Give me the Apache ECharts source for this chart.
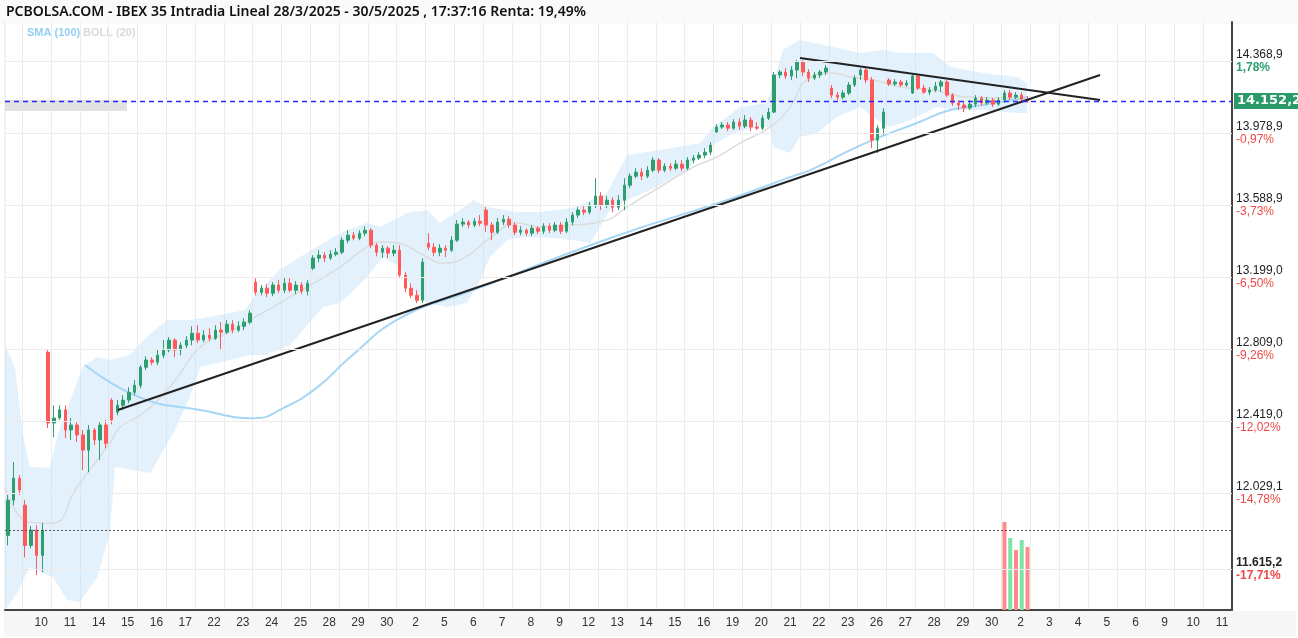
<!DOCTYPE html>
<html><head><meta charset="utf-8">
<script src="https://cdn.jsdelivr.net/npm/echarts@6/dist/echarts.min.js"></script>
<style>html,body{margin:0;padding:0;background:#fff}#c{width:1298px;height:638px}</style>
</head><body><div id="c"></div>
<script>
// day labels (one per session), first partial session has no label
const dayLabels = ['10','11','14','15','16','17','22','23','24','25','28','29','30','2','5','6','7','8','9','12','13','14','15','16','19','20','21','22','23','26','27','28','29','30','2','3','4','5','6','9','10','11'];
const leadBars = 3, barsPerDay = 5;
// candles [open, close, low, high]
const candles = [
[11799,11990,11745,12018],[11990,12108,11963,12196],[12108,12045,12018,12126],
[11963,11745,11680,11990],[11745,11828,11729,11850],[11828,11691,11583,11855],[11691,11828,11599,11866],[12791,12408,12381,12803],
[12408,12435,12331,12504],[12435,12479,12424,12504],[12479,12370,12325,12504],[12370,12397,12316,12435],[12397,12343,12305,12412],
[12343,12261,12153,12370],[12261,12370,12141,12397],[12370,12316,12287,12381],[12316,12397,12207,12412],[12397,12298,12271,12424],
[12532,12424,12401,12542],[12466,12504,12450,12532],[12504,12532,12477,12558],[12532,12574,12515,12601],[12574,12612,12558,12641],
[12612,12710,12596,12721],[12710,12749,12694,12769],[12749,12737,12721,12764],[12737,12775,12721,12803],[12775,12803,12759,12857],
[12803,12857,12791,12873],[12857,12803,12764,12867],[12803,12829,12775,12845],[12829,12857,12813,12878],[12857,12894,12829,12932],
[12894,12857,12840,12938],[12857,12883,12845,12911],[12883,12867,12851,12921],[12867,12911,12857,12938],[12911,12900,12803,12954],
[12900,12943,12889,12965],[12943,12911,12894,12965],[12911,12932,12900,12959],[12932,12954,12911,12975],[12954,13003,12943,13019],
[13171,13116,13100,13192],[13116,13138,13100,13155],[13138,13111,13089,13160],[13111,13155,13095,13171],[13155,13127,13111,13182],
[13127,13165,13111,13198],[13165,13127,13116,13192],[13127,13155,13106,13176],[13155,13122,13106,13171],[13122,13165,13100,13182],
[13246,13301,13236,13317],[13301,13317,13279,13344],[13317,13301,13279,13333],[13301,13322,13290,13344],[13322,13333,13311,13355],
[13333,13398,13322,13415],[13398,13425,13382,13452],[13425,13409,13398,13442],[13409,13436,13398,13452],[13436,13452,13420,13474],
[13452,13371,13355,13463],[13371,13333,13311,13382],[13333,13355,13301,13371],[13355,13328,13301,13366],[13328,13344,13311,13371],
[13344,13209,13192,13371],[13209,13138,13116,13225],[13138,13100,13084,13165],[13100,13073,13057,13127],[13073,13279,13057,13301],
[13382,13360,13344,13436],[13360,13333,13311,13382],[13333,13355,13311,13377],[13355,13344,13306,13371],[13344,13398,13333,13420],
[13398,13485,13388,13507],[13485,13496,13469,13518],[13496,13480,13463,13507],[13480,13501,13469,13518],[13501,13490,13474,13534],
[13561,13480,13442,13577],[13480,13441,13398,13496],[13441,13496,13431,13518],[13496,13512,13480,13534],[13512,13480,13463,13528],
[13480,13441,13425,13496],[13441,13452,13425,13474],[13452,13436,13420,13463],[13436,13463,13420,13480],[13463,13447,13431,13474],
[13447,13474,13431,13490],[13474,13452,13436,13490],[13452,13480,13441,13496],[13480,13447,13431,13496],[13447,13496,13436,13518],
[13496,13534,13480,13550],[13534,13561,13518,13577],[13561,13550,13534,13582],[13550,13588,13539,13604],[13588,13637,13572,13734],
[13637,13588,13561,13658],[13588,13615,13572,13637],[13615,13577,13550,13631],[13577,13615,13561,13642],[13615,13696,13561,13734],
[13696,13745,13680,13761],[13745,13766,13734,13788],[13766,13745,13723,13788],[13745,13777,13734,13799],[13777,13832,13766,13848],
[13832,13777,13761,13843],[13777,13799,13766,13815],[13799,13788,13772,13815],[13788,13810,13777,13832],[13810,13788,13772,13832],
[13788,13832,13777,13848],[13832,13843,13815,13859],[13843,13859,13832,13875],[13859,13875,13843,13897],[13875,13913,13859,13929],
[13984,14011,13973,14027],[14011,14022,14000,14038],[14022,14005,13989,14038],[14005,14038,13995,14054],[14038,14016,13995,14059],
[14016,14049,14005,14076],[14049,14011,13989,14065],[14011,14005,13995,14038],[14005,14059,13995,14076],[14059,14092,14049,14114],
[14092,14293,14087,14309],[14293,14309,14276,14320],[14309,14287,14271,14331],[14287,14320,14266,14341],[14320,14363,14276,14374],
[14363,14309,14287,14374],[14309,14276,14255,14325],[14276,14293,14266,14309],[14293,14309,14276,14320],[14309,14331,14293,14347],
[14222,14184,14168,14239],[14184,14173,14157,14200],[14173,14195,14162,14211],[14195,14239,14184,14255],[14239,14276,14228,14293],
[14293,14320,14266,14331],[14320,14266,14249,14331],[14266,13940,13897,14282],[13940,14005,13870,14022],[14005,14092,13968,14114],
[14266,14244,14233,14276],[14244,14255,14233,14271],[14255,14239,14228,14266],[14239,14249,14228,14266],[14195,14287,14190,14298],
[14287,14222,14211,14298],[14222,14200,14190,14239],[14200,14211,14184,14228],[14211,14233,14200,14255],[14233,14255,14200,14266],
[14255,14184,14173,14266],[14184,14141,14125,14195],[14141,14130,14103,14157],[14130,14114,14092,14146],[14114,14135,14103,14157],
[14135,14168,14119,14184],[14168,14141,14125,14179],[14141,14157,14130,14173],[14157,14135,14119,14168],[14135,14157,14125,14173],
[14157,14195,14141,14211],[14195,14173,14157,14211],[14173,14184,14162,14200],[14184,14162,14152,14200],[14162,14152.2,14141,14179]
];
const volumes = [88,72,60,70,63];           // last session volume bars
const volumeDir = [-1,1,-1,1,-1];
// indicators: [barIndex, value]
const sma100 = [[13.4,12722],[22.9,12547],[33.4,12478],[42.9,12434],[47.8,12489],[53.7,12601],[59.4,12764],[68.1,12976],[80.8,13128],[104.5,13409],[124.8,13615],[135.8,13740],[139.3,13778],[146.2,13886],[150.9,13951],[157.8,14033],[163.6,14103],[169.3,14130],[176.9,14174]];
const bollUpper = [[-0.5,12830],[1.2,12711],[2.6,12353],[3.8,12169],[7.3,12164],[8.7,12353],[13.0,12711],[15.5,12765],[17.7,12749],[21.2,12776],[23.5,12857],[27.6,12966],[31.6,12966],[36.8,12993],[41.2,13020],[42.9,13101],[47.2,13236],[50.7,13307],[57.7,13437],[62.3,13491],[64.6,13469],[69.3,13545],[72.8,13561],[75.0,13491],[78.0,13551],[80.8,13616],[83.2,13578],[88.4,13551],[92.4,13551],[98.1,13572],[104.0,13654],[107.5,13859],[113.2,13886],[120.2,13924],[122.4,14011],[127.1,14119],[131.8,14141],[133.5,14320],[134.5,14428],[137.5,14482],[143.3,14444],[147.9,14412],[151.9,14428],[154.9,14412],[160.6,14412],[163.6,14336],[169.3,14304],[175.2,14282],[176.9,14249]];
const bollLower = [[-0.5,11395],[1.6,11487],[3.8,11628],[7.8,11573],[10.3,11449],[12.5,11438],[15.5,11573],[17.7,11812],[18.6,12169],[21.7,12153],[24.7,12137],[28.7,12353],[31.6,12548],[33.4,12711],[38.6,12749],[42.0,12776],[44.6,12776],[49.0,12830],[54.7,13036],[57.7,13058],[62.3,13198],[65.1,13307],[68.1,13253],[70.3,13128],[72.8,13058],[76.2,13036],[79.7,13058],[82.0,13182],[83.7,13307],[86.7,13399],[89.4,13415],[94.1,13410],[98.1,13399],[101.1,13383],[104.5,13561],[107.5,13616],[112.7,13686],[117.9,13778],[120.2,13870],[125.9,13979],[130.6,14011],[132.3,14011],[132.8,13903],[135.8,13870],[137.5,13957],[140.5,13979],[143.9,14065],[147.9,14119],[150.9,14049],[153.1,14011],[156.6,14049],[161.3,14119],[164.8,14103],[169.3,14103],[175.2,14087],[176.9,14087]];
const bollMid = [[-0.5,12061],[3.8,11871],[7.8,11866],[12.0,12061],[17.7,12299],[19.5,12386],[23.5,12462],[28.7,12624],[33.4,12819],[39.1,12911],[42.6,12976],[46.0,13036],[51.9,13144],[57.7,13253],[62.3,13361],[65.1,13388],[67.6,13383],[72.1,13318],[75.5,13274],[78.5,13291],[83.7,13410],[88.4,13491],[92.4,13469],[98.1,13480],[104.0,13507],[107.5,13578],[113.2,13686],[119.0,13794],[123.1,13849],[127.1,13924],[132.3,14011],[135.8,14119],[138.7,14266],[143.3,14304],[146.2,14282],[150.2,14266],[154.9,14228],[160.6,14211],[166.5,14174],[172.8,14168],[176.9,14163]];
const trendUp = [[19.1,12478],[189.6,14293]];
const trendDown = [[137.5,14385],[189.6,14157]];
const lastPrice = 14152.2, lastPriceLabel = '14.152,2';
const refLevel = 11828;
const yTicks = [14368.9,13978.9,13588.9,13199.0,12809.0,12419.0,12029.1,11615.2];
const yTickText = ['14.368,9','13.978,9','13.588,9','13.199,0','12.809,0','12.419,0','12.029,1','11.615,2'];
const yTickPct = ['1,78%','-0,97%','-3,73%','-6,50%','-9,26%','-12,02%','-14,78%','-17,71%'];

const nBars = leadBars + dayLabels.length * barsPerDay;
const cats = [];
for (let i = 0; i < nBars; i++) {
  const k = Math.floor((i - leadBars) / barsPerDay);
  cats.push(i < leadBars ? '' : dayLabels[k] + '#' + i);
}
const candleData = cats.map((c, i) => i < candles.length ? candles[i] : '-');
const volStart = candles.length - volumes.length;
const volData = cats.map((c, i) => {
  const j = i - volStart;
  if (j < 0 || j >= volumes.length) return '-';
  return {value: volumes[j], itemStyle: {color: volumeDir[j] > 0 ? '#7ee3a6' : '#ff8a8a'}};
});
const isBoundary = i => i >= leadBars && (i - leadBars) % barsPerDay === 0;
const isLabel = i => i >= leadBars && (i - leadBars) % barsPerDay === 2;

const tickLines = yTicks.map((v, k) => ({
  yAxis: v,
  lineStyle: {color: '#ececec', type: 'solid', width: 1},
  label: {show: true, position: 'end', distance: 4,
    formatter: '{v|' + yTickText[k] + '}\n{p|' + yTickPct[k] + '}',
    rich: {v: {color: '#222', fontSize: 12, fontFamily: 'Liberation Sans', lineHeight: 13},
           p: {color: k === 0 ? '#2e9e6e' : '#f04848', fontSize: 12, fontFamily: 'Liberation Sans', lineHeight: 13,
               fontWeight: k === 0 || k === yTicks.length - 1 ? 'bold' : 'normal'}}}
}));
tickLines[tickLines.length - 1].label.rich.v.fontWeight = 'bold';

const chart = echarts.init(document.getElementById('c'), null, {renderer: 'canvas'});
chart.setOption({
  animation: false,
  backgroundColor: '#fff',
  graphic: [
    {type: 'rect', shape: {x: 0, y: 0, width: 1298, height: 24}, style: {fill: '#fafafa'}, z: -10},
    {type: 'rect', shape: {x: 4, y: 611, width: 1292, height: 25}, style: {fill: '#f6f6f6'}, z: -10},
    {type: 'line', shape: {x1: 5, y1: 22, x2: 5, y2: 610}, style: {stroke: '#e4e4e4', lineWidth: 1}, z: 0},
    {type: 'rect', shape: {x: 5, y: 100, width: 122, height: 11}, style: {fill: '#e2e2e2'}, z: 1},
    {type: 'text', left: 6, top: 5, style: {text: 'PCBOLSA.COM - IBEX 35 Intradia Lineal 28/3/2025 - 30/5/2025 , 17:37:16 Renta: 19,49%', font: '600 14px "Noto Sans"', fill: '#111'}},
    {type: 'text', left: 27, top: 27, style: {text: 'SMA (100)', font: 'bold 11px "Liberation Sans"', fill: '#93cff2'}},
    {type: 'text', left: 83, top: 27, style: {text: 'BOLL (20)', font: 'bold 11px "Liberation Sans"', fill: '#dadada'}}
  ],
  grid: [
    {left: 5, right: 66, top: 22, bottom: 28},
    {left: 5, right: 66, top: 520, bottom: 28}
  ],
  xAxis: [
    {type: 'category', data: cats, gridIndex: 0, boundaryGap: true,
     axisLine: {show: true, onZero: false, lineStyle: {color: '#444', width: 2}},
     axisTick: {show: false},
     splitLine: {show: true, interval: (i) => isBoundary(i), lineStyle: {color: '#ececec'}},
     axisLabel: {interval: (i) => isLabel(i), formatter: v => v.split('#')[0], color: '#333', fontSize: 12,
                 fontFamily: 'Liberation Sans', margin: 7, padding: [0, 0, 0, 9]}},
    {type: 'value', gridIndex: 0, min: -0.5, max: nBars - 0.5, show: false},
    {type: 'category', data: cats, gridIndex: 1, show: false}
  ],
  yAxis: [
    {type: 'value', gridIndex: 0, position: 'right', min: 11395, max: 14580, scale: true,
     axisLine: {show: true, onZero: false, lineStyle: {color: '#444', width: 2}}, axisLabel: {show: false},
     splitLine: {show: false}, axisTick: {show: false}},
    {type: 'value', gridIndex: 1, min: 0, max: 90, show: false, axisLine: {show: false}, splitLine: {show: false}}
  ],
  series: [
    {type: 'custom', xAxisIndex: 1, yAxisIndex: 0, data: [[0, 0]], z: 1, silent: true, clip: true,
     renderItem: (params, api) => {
       const pts = bollUpper.map(p => api.coord(p)).concat(bollLower.slice().reverse().map(p => api.coord(p)));
       return {type: 'polygon', shape: {points: pts}, style: {fill: 'rgba(190,225,248,0.45)', stroke: null, lineWidth: 0}};
     }},
    {type: 'line', xAxisIndex: 1, data: bollMid, showSymbol: false, smooth: true, z: 2,
     lineStyle: {color: '#dcdcdc', width: 1.5}},
    {type: 'line', xAxisIndex: 1, data: sma100, showSymbol: false, smooth: true, z: 2,
     lineStyle: {color: '#a6d6f6', width: 2}},
    {type: 'candlestick', xAxisIndex: 0, yAxisIndex: 0, data: candleData, barWidth: 3, z: 3,
     itemStyle: {color: '#2e9e6e', color0: '#ff5a5a', borderColor: '#2e9e6e', borderColor0: '#ff5a5a', borderWidth: 1},
     markLine: {symbol: 'none', silent: true, animation: false,
       data: tickLines.concat([
         {yAxis: refLevel, lineStyle: {color: '#555', type: [2, 2], width: 1}, label: {show: false}},
         {yAxis: lastPrice, lineStyle: {color: '#2b2bff', type: [5, 4], width: 1.3},
          label: {show: true, position: 'end', distance: 2, formatter: lastPriceLabel, backgroundColor: '#2a9a6a',
                  color: '#fff', fontSize: 13, fontFamily: 'DejaVu Sans', fontWeight: 'bold', padding: [2, 3, 1, 3]}}
       ])}},
    {type: 'line', xAxisIndex: 1, data: trendUp, showSymbol: false, z: 4, lineStyle: {color: '#222', width: 2}},
    {type: 'line', xAxisIndex: 1, data: trendDown, showSymbol: false, z: 4, lineStyle: {color: '#222', width: 2}},
    {type: 'bar', xAxisIndex: 2, yAxisIndex: 1, data: volData, barWidth: 4}
  ]
});
</script></body></html>
